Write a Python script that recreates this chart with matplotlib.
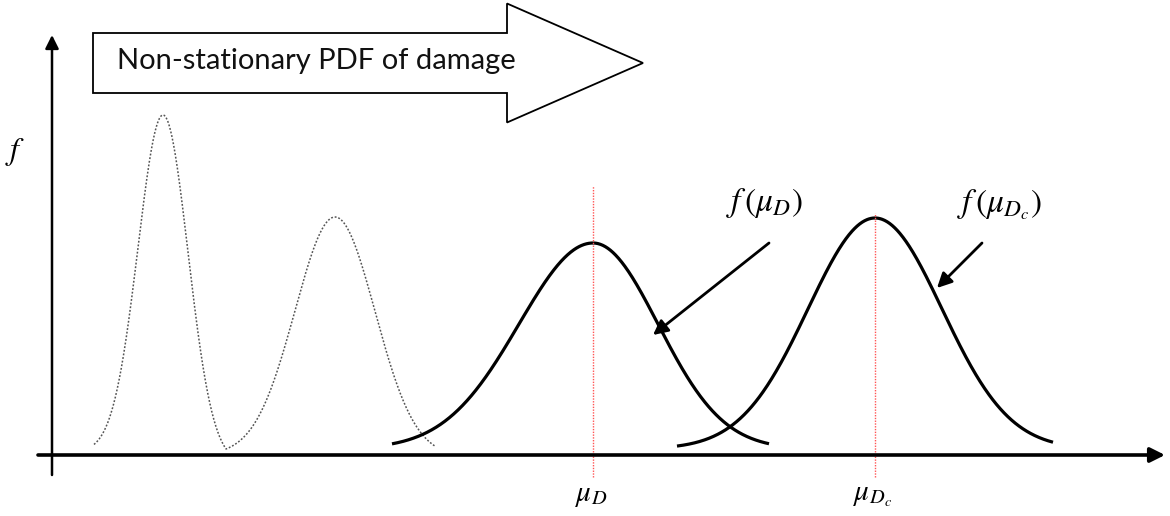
import numpy as np
import matplotlib
matplotlib.use("Agg")
import matplotlib.pyplot as plt
from matplotlib.patches import FancyArrow

# ---- data (x: distance from the f-axis, y: height above the x-axis) ----
dotted_means = [111, 283]
dotted_peaks = [340, 238]
dotted_sigmas = [25, 40]
dotted_range = [42, 383]
dotted_valley = 174

curve_labels = [r"$\mu_D$", r"$\mu_{D_c}$"]
curve_means = [541, 823]
curve_peaks = [212, 237]
curve_sigma_left = [74, 67]
curve_sigma_right = [65, 67]
curve_ranges = [[340, 717], [625, 1001]]
mean_line_tops = [269, 242]

baseline = 6

annot_labels = [r"$f\,(\mu_D)$", r"$f\,(\mu_{D_c})$"]
annot_text_pos = [[712, 252], [948, 250]]
annot_tail = [[717, 212], [930, 212]]
annot_tip = [[601, 120], [885, 167]]

title_text = "Non-stationary PDF of damage"

# ---- figure ----
W, H = 1170, 516
fig = plt.figure(figsize=(W / 100, H / 100), dpi=100)
ox, oy = 52, 455  # pixel location of origin
ax = fig.add_axes([ox / W, (H - oy) / H, (W - ox) / W, oy / H])
ax.set_xlim(0, W - ox)
ax.set_ylim(0, oy)
ax.axis("off")


def split_gauss(x, mu, amp, sl, sr):
    s = np.where(x < mu, sl, sr)
    return amp * np.exp(-0.5 * ((x - mu) / s) ** 2)


def bump(x, mu, amp, s, left, right):
    """Gaussian bump whose two sides fall to zero at the given edges."""
    g = np.exp(-0.5 * ((x - mu) / s) ** 2)
    edge = np.where(x < mu, np.exp(-0.5 * ((left - mu) / s) ** 2),
                    np.exp(-0.5 * ((right - mu) / s) ** 2))
    return amp * np.clip((g - edge) / (1 - edge), 0, None)


# dotted non-stationary curves
x = np.linspace(dotted_range[0], dotted_range[1], 1000)
b1 = bump(x, dotted_means[0], dotted_peaks[0] - baseline, dotted_sigmas[0],
          dotted_range[0] - 8, dotted_valley)
b2 = bump(x, dotted_means[1], dotted_peaks[1] - baseline, dotted_sigmas[1],
          dotted_valley, dotted_range[1] + 5)
y = baseline + np.maximum(b1, b2)
ax.plot(x, y, color="#555555", lw=1.1, ls=(0, (1.2, 1.2)), clip_on=False)

# solid curves
for m, p, sl, sr, rng in zip(curve_means, curve_peaks, curve_sigma_left, curve_sigma_right, curve_ranges):
    xx = np.linspace(rng[0], rng[1], 600)
    yy = baseline + split_gauss(xx, m, p - baseline, sl, sr)
    ax.plot(xx, yy, color="black", lw=2.3, clip_on=False, solid_capstyle="butt")

# red mean lines and labels
for m, top, lab in zip(curve_means, mean_line_tops, curve_labels):
    ax.plot([m, m], [-22, top], color="#ff5555", lw=1.0, ls=(0, (1, 1)), clip_on=False)
    ax.text(m - 2, -40, lab, ha="center", va="center", fontsize=21,
            math_fontfamily="stix", clip_on=False)

# axes arrows
ax.annotate("", xy=(W - ox - 5, 0), xytext=(-14, 0), annotation_clip=False,
            arrowprops=dict(arrowstyle="-|>", lw=2.6, color="black", mutation_scale=22,
                            shrinkA=0, shrinkB=0))
ax.annotate("", xy=(0, oy - 35), xytext=(0, -20), annotation_clip=False,
            arrowprops=dict(arrowstyle="-|>", lw=1.8, color="black", mutation_scale=20,
                            shrinkA=0, shrinkB=0))
ax.text(-37, oy - 152, r"$f$", ha="center", va="center", fontsize=23,
        math_fontfamily="stix", clip_on=False)

# annotation arrows and labels
for lab, tp, tail, tip in zip(annot_labels, annot_text_pos, annot_tail, annot_tip):
    ax.annotate("", xy=tip, xytext=tail, annotation_clip=False,
                arrowprops=dict(arrowstyle="-|>", lw=2.0, color="black", mutation_scale=22,
                                shrinkA=0, shrinkB=0))
    ax.text(tp[0], tp[1], lab, ha="center", va="center", fontsize=24,
            math_fontfamily="stix", clip_on=False)

# big block arrow with title
arr = FancyArrow(41, oy - 63, 550, 0, width=60, head_width=119, head_length=136,
                 length_includes_head=True, facecolor="white", edgecolor="black",
                 lw=1.3, clip_on=False)
ax.add_patch(arr)
ax.text(65, oy - 61, title_text, ha="left", va="center", fontsize=21,
        fontfamily="Lato", color="#111111", clip_on=False)

fig.savefig("out.png", dpi=100)
